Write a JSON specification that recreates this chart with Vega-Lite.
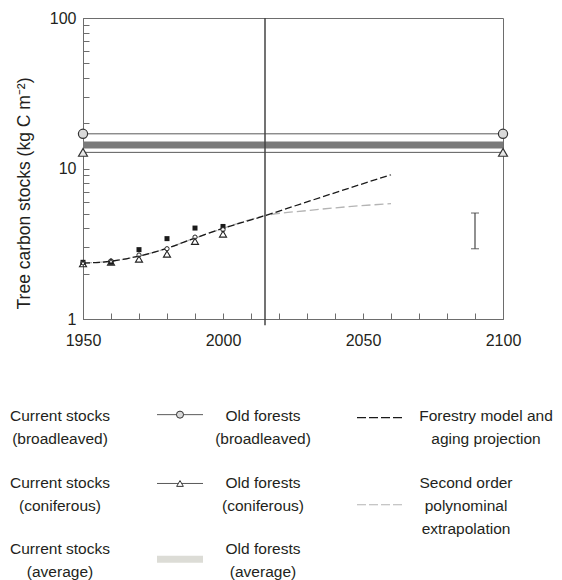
{
  "$schema": "https://vega.github.io/schema/vega-lite/v6.json",
  "background": "white",
  "padding": {"left": 10, "top": 9, "right": 5, "bottom": 0},
  "config": {
    "font": "Liberation Sans",
    "view": {"stroke": null}
  },
  "datasets": {
    "old": [
      {"series": "broadleaved", "year": 1950, "value": 17},
      {"series": "broadleaved", "year": 2100, "value": 17},
      {"series": "coniferous", "year": 1950, "value": 12.8},
      {"series": "coniferous", "year": 2100, "value": 12.8},
      {"series": "average", "year": 1950, "value": 14.3},
      {"series": "average", "year": 2100, "value": 14.3}
    ],
    "current": [
      {"type": "broadleaved", "year": 1950, "value": 2.38},
      {"type": "broadleaved", "year": 1960, "value": 2.38},
      {"type": "broadleaved", "year": 1970, "value": 2.89},
      {"type": "broadleaved", "year": 1980, "value": 3.42},
      {"type": "broadleaved", "year": 1990, "value": 4.02},
      {"type": "broadleaved", "year": 2000, "value": 4.12},
      {"type": "coniferous", "year": 1950, "value": 2.33},
      {"type": "coniferous", "year": 1960, "value": 2.39},
      {"type": "coniferous", "year": 1970, "value": 2.5},
      {"type": "coniferous", "year": 1980, "value": 2.7},
      {"type": "coniferous", "year": 1990, "value": 3.28},
      {"type": "coniferous", "year": 2000, "value": 3.67},
      {"type": "average", "year": 1950, "value": 2.36},
      {"type": "average", "year": 1960, "value": 2.43},
      {"type": "average", "year": 1970, "value": 2.66},
      {"type": "average", "year": 1980, "value": 2.93},
      {"type": "average", "year": 1990, "value": 3.5},
      {"type": "average", "year": 2000, "value": 3.92}
    ],
    "model": [
      {"series": "forestry", "year": 1950, "value": 2.35},
      {"series": "forestry", "year": 1960, "value": 2.42},
      {"series": "forestry", "year": 1970, "value": 2.62},
      {"series": "forestry", "year": 1980, "value": 2.95},
      {"series": "forestry", "year": 1990, "value": 3.45},
      {"series": "forestry", "year": 2000, "value": 4.0},
      {"series": "forestry", "year": 2015, "value": 4.86},
      {"series": "forestry", "year": 2030, "value": 6.0},
      {"series": "forestry", "year": 2045, "value": 7.4},
      {"series": "forestry", "year": 2060, "value": 9.1},
      {"series": "polynomial", "year": 1950, "value": 2.36},
      {"series": "polynomial", "year": 1960, "value": 2.42},
      {"series": "polynomial", "year": 1970, "value": 2.62},
      {"series": "polynomial", "year": 1980, "value": 2.95},
      {"series": "polynomial", "year": 1990, "value": 3.45},
      {"series": "polynomial", "year": 2000, "value": 4.0},
      {"series": "polynomial", "year": 2015, "value": 4.86},
      {"series": "polynomial", "year": 2030, "value": 5.25},
      {"series": "polynomial", "year": 2045, "value": 5.58},
      {"series": "polynomial", "year": 2060, "value": 5.84}
    ],
    "marker": [{"year": 2015, "value": 0.91, "value2": 100}],
    "err": [{"year": 2090, "value": 2.93, "value2": 5.06}],
    "legend": [
      {"cell": "A", "row": 1, "label": "Current stocks\n(broadleaved)"},
      {"cell": "A", "row": 2, "label": "Current stocks\n(coniferous)"},
      {"cell": "A", "row": 3, "label": "Current stocks\n(average)"},
      {"cell": "C", "row": 1, "label": "Old forests\n(broadleaved)"},
      {"cell": "C", "row": 2, "label": "Old forests\n(coniferous)"},
      {"cell": "C", "row": 3, "label": "Old forests\n(average)"},
      {"cell": "E", "row": 1, "label": "Forestry model and\naging projection"},
      {"cell": "E", "row": 2, "label": "Second order\npolynominal\nextrapolation"}
    ],
    "legsym": [
      {"item": "oldBroad", "row": 1},
      {"item": "oldCon", "row": 2},
      {"item": "oldAvg", "row": 3},
      {"item": "model", "row": 1},
      {"item": "poly", "row": 2}
    ]
  },
  "spacing": 60,
  "vconcat": [
    {
      "width": 420,
      "height": 301,
      "view": {"stroke": "#6d6d6d", "strokeWidth": 1},
      "encoding": {
        "x": {
          "field": "year", "type": "quantitative",
          "scale": {"domain": [1950, 2100], "nice": false, "zero": false},
          "axis": {
            "title": null, "grid": false,
            "values": [1950, 1960, 1970, 1980, 1990, 2000, 2010, 2020, 2030, 2040, 2050, 2060, 2070, 2080, 2090, 2100],
            "format": "d",
            "labelExpr": "datum.value % 50 === 0 ? datum.label : ''",
            "labelOverlap": false, "labelFlush": false,
            "tickSize": -6, "tickColor": "#6d6d6d", "domainColor": "#6d6d6d",
            "labelFontSize": 16, "labelColor": "#231f20", "labelPadding": 19
          }
        },
        "y": {
          "field": "value", "type": "quantitative",
          "scale": {"type": "log", "domain": [1, 100], "nice": false},
          "axis": {
            "title": "Tree carbon stocks (kg C m⁻²)",
            "grid": false,
            "values": [1, 2, 3, 4, 5, 6, 7, 8, 9, 10, 20, 30, 40, 50, 60, 70, 80, 90, 100],
            "format": "d",
            "labelExpr": "datum.value == 1 || datum.value == 10 || datum.value == 100 ? datum.label : ''",
            "labelOverlap": false, "labelFlush": false,
            "tickSize": -6, "tickColor": "#6d6d6d", "domainColor": "#6d6d6d",
            "labelFontSize": 16, "labelColor": "#231f20", "labelPadding": 13,
            "titleFontSize": 17.5, "titleFontWeight": "normal", "titleColor": "#231f20",
            "titlePadding": 16, "titleY": 175
          }
        }
      },
      "layer": [
        {
          "data": {"name": "old"},
          "transform": [{"filter": "datum.series === 'average'"}],
          "mark": {"type": "line", "color": "#7a7a7a", "strokeWidth": 7, "strokeCap": "butt"}
        },
        {
          "data": {"name": "old"},
          "transform": [{"filter": "datum.series !== 'average'"}],
          "mark": {"type": "line", "color": "#5a5a5a", "strokeWidth": 1},
          "encoding": {"detail": {"field": "series"}}
        },
        {
          "data": {"name": "model"},
          "transform": [{"filter": "datum.series === 'polynomial'"}],
          "mark": {"type": "line", "color": "#b4b4b4", "strokeWidth": 1.3, "strokeDash": [9, 4], "interpolate": "monotone"}
        },
        {
          "data": {"name": "model"},
          "transform": [{"filter": "datum.series === 'forestry'"}],
          "mark": {"type": "line", "color": "#1a1a1a", "strokeWidth": 1.3, "strokeDash": [7, 3], "interpolate": "monotone"}
        },
        {
          "data": {"name": "marker"},
          "mark": {"type": "rule", "color": "#444444", "strokeWidth": 1.5, "clip": false},
          "encoding": {"y2": {"field": "value2"}}
        },
        {
          "data": {"name": "err"},
          "mark": {"type": "rule", "color": "#555555", "strokeWidth": 1.3},
          "encoding": {"y2": {"field": "value2"}}
        },
        {
          "data": {"name": "err"},
          "transform": [{"fold": ["value", "value2"], "as": ["end", "value"]}],
          "mark": {"type": "tick", "orient": "horizontal", "size": 8, "thickness": 1.2, "color": "#444444"}
        },
        {
          "data": {"name": "old"},
          "transform": [{"filter": "datum.series === 'broadleaved'"}],
          "mark": {"type": "point", "shape": "circle", "filled": true, "fill": "#d9d9d9", "stroke": "#333333", "strokeWidth": 1.2, "size": 85, "opacity": 1}
        },
        {
          "data": {"name": "old"},
          "transform": [{"filter": "datum.series === 'coniferous'"}],
          "mark": {"type": "point", "shape": "triangle-up", "filled": true, "fill": "#e8e8e8", "stroke": "#333333", "strokeWidth": 1.2, "size": 80, "opacity": 1}
        },
        {
          "data": {"name": "current"},
          "transform": [{"filter": "datum.type === 'broadleaved'"}],
          "mark": {"type": "point", "shape": "square", "filled": true, "color": "#1a1a1a", "size": 25, "opacity": 1}
        },
        {
          "data": {"name": "current"},
          "transform": [{"filter": "datum.type === 'average'"}],
          "mark": {"type": "point", "shape": "circle", "filled": true, "fill": "white", "stroke": "#222222", "strokeWidth": 1, "size": 18, "opacity": 1}
        },
        {
          "data": {"name": "current"},
          "transform": [{"filter": "datum.type === 'coniferous'"}],
          "mark": {"type": "point", "shape": "triangle-up", "filled": false, "stroke": "#222222", "strokeWidth": 1.1, "size": 50, "opacity": 1}
        }
      ]
    },
    {
      "hconcat": [
        {
          "width": 74, "height": 199.5,
          "data": {"name": "legend"},
          "transform": [{"filter": "datum.cell === 'A'"}],
          "mark": {"type": "text", "fontSize": 15.5, "color": "#231f20", "lineHeight": 23, "lineBreak": "\n", "baseline": "top", "align": "center", "dx": -60},
          "encoding": {
            "y": {"field": "row", "type": "ordinal", "scale": {"type": "band", "domain": [1, 2, 3], "paddingInner": 0, "paddingOuter": 0}, "axis": null, "bandPosition": 0},
            "text": {"field": "label"}
          }
        },
        {
          "width": 46, "height": 199.5,
          "data": {"name": "legsym"},
          "layer": [
            {
              "transform": [{"filter": "datum.item === 'oldAvg'"}],
              "mark": {"type": "rule", "color": "#dcdcd6", "strokeWidth": 7, "strokeCap": "butt"},
              "encoding": {"y": {"field": "row", "type": "ordinal", "scale": {"type": "band", "domain": [1, 2, 3], "paddingInner": 0, "paddingOuter": 0}, "axis": null, "bandPosition": 0.26}}
            },
            {
              "transform": [{"filter": "datum.item === 'oldBroad'"}],
              "mark": {"type": "rule", "color": "#5a5a5a", "strokeWidth": 1},
              "encoding": {"y": {"field": "row", "type": "ordinal", "scale": {"type": "band", "domain": [1, 2, 3], "paddingInner": 0, "paddingOuter": 0}, "axis": null, "bandPosition": 0.085}}
            },
            {
              "transform": [{"filter": "datum.item === 'oldBroad'"}],
              "mark": {"type": "point", "shape": "circle", "filled": true, "fill": "#d9d9d9", "stroke": "#333333", "strokeWidth": 1, "size": 50, "opacity": 1},
              "encoding": {"y": {"field": "row", "type": "ordinal", "scale": {"type": "band", "domain": [1, 2, 3], "paddingInner": 0, "paddingOuter": 0}, "axis": null, "bandPosition": 0.085}}
            },
            {
              "transform": [{"filter": "datum.item === 'oldCon'"}],
              "mark": {"type": "rule", "color": "#5a5a5a", "strokeWidth": 1},
              "encoding": {"y": {"field": "row", "type": "ordinal", "scale": {"type": "band", "domain": [1, 2, 3], "paddingInner": 0, "paddingOuter": 0}, "axis": null, "bandPosition": 0.12}}
            },
            {
              "transform": [{"filter": "datum.item === 'oldCon'"}],
              "mark": {"type": "point", "shape": "triangle-up", "filled": true, "fill": "white", "stroke": "#333333", "strokeWidth": 1, "size": 45, "opacity": 1},
              "encoding": {"y": {"field": "row", "type": "ordinal", "scale": {"type": "band", "domain": [1, 2, 3], "paddingInner": 0, "paddingOuter": 0}, "axis": null, "bandPosition": 0.12}}
            }
          ]
        },
        {
          "width": 120, "height": 199.5,
          "data": {"name": "legend"},
          "transform": [{"filter": "datum.cell === 'C'"}],
          "mark": {"type": "text", "fontSize": 15.5, "color": "#231f20", "lineHeight": 23, "lineBreak": "\n", "baseline": "top", "align": "center"},
          "encoding": {
            "y": {"field": "row", "type": "ordinal", "scale": {"type": "band", "domain": [1, 2, 3], "paddingInner": 0, "paddingOuter": 0}, "axis": null, "bandPosition": 0},
            "text": {"field": "label"}
          }
        },
        {
          "width": 33, "height": 199.5,
          "data": {"values": [{}]},
          "mark": {"type": "text"},
          "encoding": {"text": {"value": ""}}
        },
        {
          "width": 46, "height": 199.5,
          "data": {"name": "legsym"},
          "layer": [
            {
              "transform": [{"filter": "datum.item === 'model'"}],
              "mark": {"type": "rule", "color": "#1a1a1a", "strokeWidth": 1.3, "strokeDash": [9, 3]},
              "encoding": {"y": {"field": "row", "type": "ordinal", "scale": {"type": "band", "domain": [1, 2, 3], "paddingInner": 0, "paddingOuter": 0}, "axis": null, "bandPosition": 0.13}}
            },
            {
              "transform": [{"filter": "datum.item === 'poly'"}],
              "mark": {"type": "rule", "color": "#b4b4b4", "strokeWidth": 1.2, "strokeDash": [9, 3]},
              "encoding": {"y": {"field": "row", "type": "ordinal", "scale": {"type": "band", "domain": [1, 2, 3], "paddingInner": 0, "paddingOuter": 0}, "axis": null, "bandPosition": 0.44}}
            }
          ]
        },
        {
          "vconcat": [
            {
              "width": 168, "height": 66.5,
              "data": {"name": "legend"},
              "transform": [{"filter": "datum.cell === 'E' && datum.row === 1"}],
              "mark": {"type": "text", "fontSize": 15.5, "color": "#231f20", "lineHeight": 23, "lineBreak": "\n", "baseline": "top", "align": "center"},
              "encoding": {
                "y": {"field": "row", "type": "ordinal", "scale": {"type": "band", "domain": [1], "paddingInner": 0, "paddingOuter": 0}, "axis": null, "bandPosition": 0},
                "text": {"field": "label"}
              }
            },
            {
              "width": 128, "height": 66.5,
              "data": {"name": "legend"},
              "transform": [{"filter": "datum.cell === 'E' && datum.row === 2"}],
              "mark": {"type": "text", "fontSize": 15.5, "color": "#231f20", "lineHeight": 23, "lineBreak": "\n", "baseline": "top", "align": "center"},
              "encoding": {
                "y": {"field": "row", "type": "ordinal", "scale": {"type": "band", "domain": [2], "paddingInner": 0, "paddingOuter": 0}, "axis": null, "bandPosition": 0},
                "text": {"field": "label"}
              }
            }
          ],
          "spacing": 0,
          "bounds": "flush"
        }
      ],
      "spacing": 0,
      "bounds": "flush"
    }
  ]
}
